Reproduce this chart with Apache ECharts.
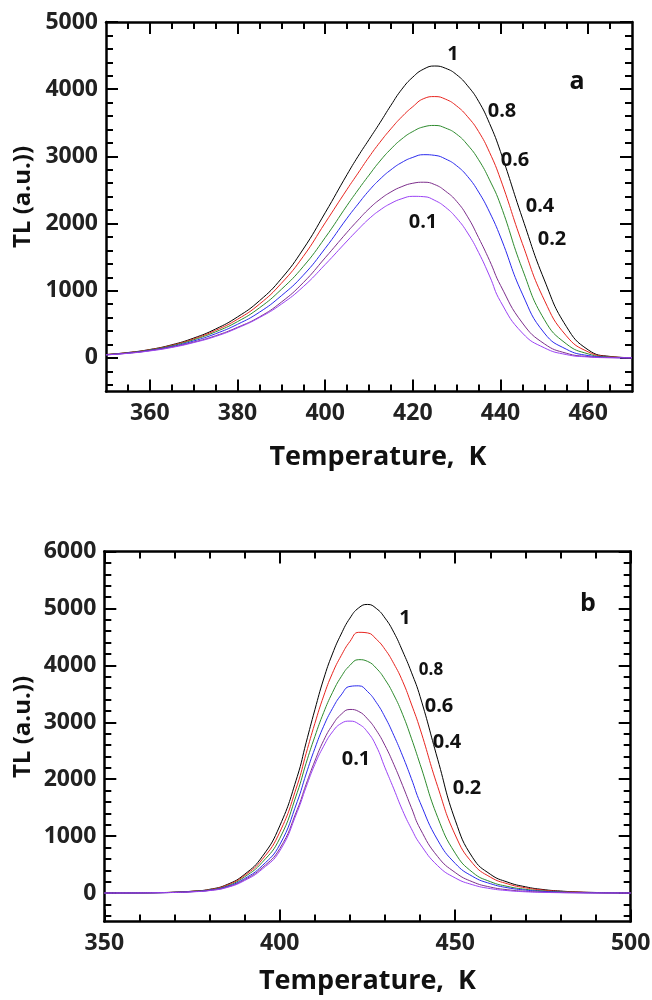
<!DOCTYPE html>
<html>
<head>
<meta charset="utf-8">
<script src="https://cdn.jsdelivr.net/npm/echarts@6/dist/echarts.min.js"></script>
<style>
  html, body { margin: 0; padding: 0; background: #ffffff; }
  #main { width: 652px; height: 1000px; }
</style>
</head>
<body>
<div id="main"></div>
<script>
// ---- Panel (a): glow curves, 350-470 K (2.5 K steps across the peak) ----
const tempA = [350,355,360,365,370,375,380,385,390,395,400,405,
               407.5,410,412.5,415,417.5,420,422.5,425,427.5,430,432.5,435,437.5,440,
               445,450,455,460,465,470];
const tlA_100 = [50,80,125,195,295,430,610,850,1180,1620,2160,2730,
                 3000,3250,3500,3760,4000,4180,4300,4345,4310,4215,4050,3820,3490,3070,
                 2080,1160,470,120,22,3];
const tlA_080 = [50,78,122,188,283,410,575,800,1110,1510,2010,2510,
                 2750,2990,3210,3410,3590,3740,3860,3890,3850,3750,3590,3370,3060,2660,
                 1700,860,330,90,18,2];
const tlA_060 = [48,75,118,180,270,388,540,745,1020,1360,1790,2270,
                 2500,2720,2930,3110,3260,3370,3440,3460,3420,3330,3170,2950,2650,2280,
                 1320,570,210,60,12,2];
const tlA_040 = [47,72,112,170,252,360,500,680,925,1230,1630,2080,
                 2290,2490,2660,2800,2910,2985,3025,3015,2960,2860,2700,2470,2170,1800,
                 950,370,130,35,8,1];
const tlA_020 = [46,70,108,162,235,330,455,610,830,1120,1490,1870,
                 2050,2220,2360,2470,2550,2600,2615,2580,2480,2330,2100,1790,1450,1080,
                 520,210,70,20,4,1];
const tlA_010 = [45,68,104,155,228,320,445,600,800,1060,1390,1740,
                 1910,2070,2200,2300,2370,2405,2400,2345,2240,2080,1860,1570,1220,840,
                 370,150,50,14,3,1];

// ---- Panel (b): glow curves, 350-500 K (2.5 K steps across the peak) ----
const tempB = [350,355,360,365,370,375,380,385,390,395,400,405,
               407.5,410,412.5,415,417.5,420,422.5,425,427.5,430,432.5,435,437.5,440,
               445,450,455,460,465,470,475,480,485,490,495,500];
const tlB_100 = [0,1,3,7,15,32,65,150,330,640,1180,2050,
                 2640,3220,3760,4200,4550,4830,5010,5070,5000,4830,4580,4250,3880,3450,
                 2350,1280,620,330,190,110,62,35,19,10,5,2];
const tlB_080 = [0,1,3,7,14,30,60,140,310,590,1070,1900,
                 2450,2980,3460,3860,4170,4420,4580,4570,4460,4280,4030,3720,3320,2880,
                 1870,1020,520,280,160,92,52,29,16,8,4,2];
const tlB_060 = [0,1,3,6,13,28,55,125,285,540,960,1770,
                 2280,2750,3170,3520,3800,4000,4100,4070,3950,3750,3480,3140,2720,2260,
                 1330,700,360,200,115,66,37,21,11,6,3,1];
const tlB_040 = [0,1,2,5,12,25,50,115,255,480,850,1610,
                 2090,2540,2930,3240,3480,3630,3640,3540,3350,3090,2770,2410,2010,1590,
                 930,520,290,165,92,52,29,16,8,4,2,1];
const tlB_020 = [0,1,2,5,11,23,46,105,235,445,780,1470,
                 1910,2320,2680,2950,3140,3225,3190,3060,2860,2590,2260,1890,1500,1130,
                 640,360,195,105,57,31,17,9,5,2,1,0];
const tlB_010 = [0,1,2,5,10,21,43,98,220,420,740,1430,
                 1860,2260,2580,2830,2980,3020,2970,2830,2580,2200,1830,1450,1130,860,
                 480,265,145,78,42,22,12,6,3,1,1,0];

// curve labels (fraction) and their colours, top curve first
const fractions = ['1', '0.8', '0.6', '0.4', '0.2', '0.1'];
const curveColors = ['#000000', '#e8251f', '#2e8b2e', '#2a2aee', '#7d2f8c', '#9b42f5'];

// axis ticks
const xTicksA = [360, 380, 400, 420, 440, 460];
const yTicksA = [0, 1000, 2000, 3000, 4000, 5000];
const xTicksB = [350, 400, 450, 500];
const yTicksB = [0, 1000, 2000, 3000, 4000, 5000, 6000];

const FONT = '"Open Sans", "Noto Sans", sans-serif';

function range(from, to, step) {
  const out = [];
  for (let v = from; v <= to + 1e-9; v += step) out.push(Math.round(v * 1000) / 1000);
  return out;
}

const axisLineStyle = { color: '#000', width: 2.5 };
const tickStyle = { color: '#000', width: 2 };
const labelStyle = { fontFamily: FONT, fontSize: 23, fontWeight: 'bold', color: '#222' };

function valueAxis(opts) {
  return Object.assign({
    type: 'value',
    splitLine: { show: false },
    minorTick: { show: false },
    minorSplitLine: { show: false }
  }, opts);
}

// four axes per direction: labelled main, minor ticks, mirrored main, mirrored minor
function makeXAxes(grid, min, max, majors, minors) {
  return [
    valueAxis({ gridIndex: grid, min, max, position: 'bottom',
      axisLine: { show: true, onZero: false, lineStyle: axisLineStyle },
      axisTick: { show: true, inside: true, length: 12, lineStyle: tickStyle, customValues: majors },
      axisLabel: Object.assign({ show: true, margin: 10, customValues: majors, formatter: v => String(v) }, labelStyle) }),
    valueAxis({ gridIndex: grid, min, max, position: 'bottom',
      axisLine: { show: false, onZero: false },
      axisTick: { show: true, inside: true, length: 7, lineStyle: tickStyle, customValues: minors },
      axisLabel: { show: false } }),
    valueAxis({ gridIndex: grid, min, max, position: 'top',
      axisLine: { show: true, onZero: false, lineStyle: axisLineStyle },
      axisTick: { show: true, inside: true, length: 12, lineStyle: tickStyle, customValues: majors },
      axisLabel: { show: false } }),
    valueAxis({ gridIndex: grid, min, max, position: 'top',
      axisLine: { show: false, onZero: false },
      axisTick: { show: true, inside: true, length: 7, lineStyle: tickStyle, customValues: minors },
      axisLabel: { show: false } })
  ];
}

function makeYAxes(grid, min, max, majors, minors) {
  return [
    valueAxis({ gridIndex: grid, min, max, position: 'left',
      axisLine: { show: true, onZero: false, lineStyle: axisLineStyle },
      axisTick: { show: true, inside: true, length: 12, lineStyle: tickStyle, customValues: majors },
      axisLabel: Object.assign({ show: true, margin: 8, customValues: majors, formatter: v => String(v) }, labelStyle) }),
    valueAxis({ gridIndex: grid, min, max, position: 'left',
      axisLine: { show: false, onZero: false },
      axisTick: { show: true, inside: true, length: 7, lineStyle: tickStyle, customValues: minors },
      axisLabel: { show: false } }),
    valueAxis({ gridIndex: grid, min, max, position: 'right',
      axisLine: { show: true, onZero: false, lineStyle: axisLineStyle },
      axisTick: { show: true, inside: true, length: 12, lineStyle: tickStyle, customValues: majors },
      axisLabel: { show: false } }),
    valueAxis({ gridIndex: grid, min, max, position: 'right',
      axisLine: { show: false, onZero: false },
      axisTick: { show: true, inside: true, length: 7, lineStyle: tickStyle, customValues: minors },
      axisLabel: { show: false } })
  ];
}

function curveSeries(temps, values, idx, axisIndex) {
  return {
    type: 'line',
    name: fractions[idx],
    xAxisIndex: axisIndex,
    yAxisIndex: axisIndex,
    data: temps.map((t, i) => [t, values[i]]),
    smooth: 0.5,
    showSymbol: false,
    symbol: 'none',
    lineStyle: { color: curveColors[idx], width: 1 },
    itemStyle: { color: curveColors[idx] },
    z: 1,
    animation: false
  };
}

const seriesA = [tlA_100, tlA_080, tlA_060, tlA_040, tlA_020, tlA_010];
const seriesB = [tlB_100, tlB_080, tlB_060, tlB_040, tlB_020, tlB_010];

function textEl(text, x, y, size, rot) {
  return {
    type: 'text',
    x, y,
    rotation: rot || 0,
    z: 10,
    style: {
      text,
      font: 'bold ' + size + 'px ' + FONT,
      fill: '#111',
      align: 'center',
      verticalAlign: 'middle',
      textAlign: 'center',
      textVerticalAlign: 'middle'
    }
  };
}

const chart = echarts.init(document.getElementById('main'), null, { renderer: 'canvas' });

chart.setOption({
  animation: false,
  backgroundColor: '#ffffff',
  grid: [
    { left: 106, top: 22, width: 526, height: 369.5, containLabel: false, outerBoundsMode: 'none' },
    { left: 104.3, top: 551.5, width: 526.4, height: 370, containLabel: false, outerBoundsMode: 'none' }
  ],
  xAxis: [
    ...makeXAxes(0, 350, 470, xTicksA, range(355, 465, 5)),
    ...makeXAxes(1, 350, 500, xTicksB, range(360, 490, 10))
  ],
  yAxis: [
    ...makeYAxes(0, -500, 5000, yTicksA, range(-400, 4800, 200)),
    ...makeYAxes(1, -500, 6000, yTicksB, range(-400, 5800, 200))
  ],
  series: [
    ...seriesA.map((vals, i) => curveSeries(tempA, vals, i, 0)),
    ...seriesB.map((vals, i) => curveSeries(tempB, vals, i, 4))
  ],
  graphic: [
    // axis titles
    textEl('TL (a.u.))', 23, 197, 24, Math.PI / 2),
    textEl('TL (a.u.))', 23, 727, 24, Math.PI / 2),
    textEl('Temperature,  K', 378, 457, 27),
    textEl('Temperature,  K', 367.5, 981, 27),
    // panel letters
    textEl('a', 577, 82, 25),
    textEl('b', 588, 604, 25),
    // curve labels, panel (a)
    textEl('1', 453, 54, 20),
    textEl('0.8', 502, 111, 20),
    textEl('0.6', 515, 160, 20),
    textEl('0.4', 540, 206, 20),
    textEl('0.2', 552, 239, 20),
    textEl('0.1', 423, 222, 20),
    // curve labels, panel (b)
    textEl('1', 405, 618, 20),
    textEl('0.8', 431, 670, 17),
    textEl('0.6', 439, 706, 20),
    textEl('0.4', 447, 742, 20),
    textEl('0.2', 467, 788, 20),
    textEl('0.1', 356, 759, 20)
  ]
});
</script>
</body>
</html>
